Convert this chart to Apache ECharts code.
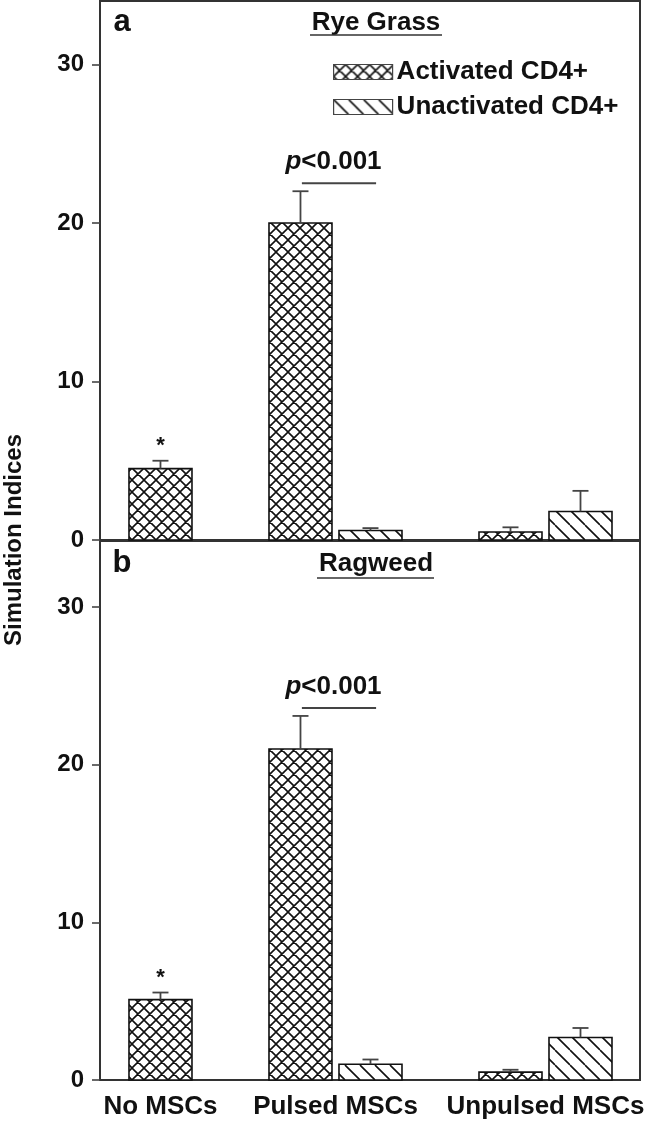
<!DOCTYPE html>
<html><head><meta charset="utf-8">
<script src="https://cdn.jsdelivr.net/npm/echarts@6/dist/echarts.min.js"></script>
<style>html,body{margin:0;padding:0;background:#fff}#chart{width:648px;height:1124px}</style>
</head><body><div id="chart"></div>
<script>
// ---------------- data ----------------
const categories = ['No MSCs', 'Pulsed MSCs', 'Unpulsed MSCs'];
const seriesNames = ['Activated CD4+', 'Unactivated CD4+'];
const panelTitles = ['Rye Grass', 'Ragweed'];
const panelLetters = ['a', 'b'];
const yAxisTitle = 'Simulation Indices';
const yTicks = [0, 10, 20, 30];

const ryeActivated = [4.5, 20.0, 0.5];
const ryeActivatedErr = [0.5, 2.0, 0.3];
const ryeUnactivated = [null, 0.6, 1.8];
const ryeUnactivatedErr = [null, 0.15, 1.3];

const ragActivated = [5.1, 21.0, 0.5];
const ragActivatedErr = [0.45, 2.1, 0.15];
const ragUnactivated = [null, 1.0, 2.7];
const ragUnactivatedErr = [null, 0.3, 0.6];

const starMarks = ['*', '', ''];
const pLabels = ['', 'p<0.001', ''];

// ---------------- layout ----------------
const FONT = '"Liberation Sans", Arial, sans-serif';
const groupStart = [0, 2, 5];
const slotOf = (cat, kind) => groupStart[cat] + kind;
const panels = [
  { vals: [ryeActivated, ryeUnactivated], errs: [ryeActivatedErr, ryeUnactivatedErr], max: 34 },
  { vals: [ragActivated, ragUnactivated], errs: [ragActivatedErr, ragUnactivatedErr], max: 34.2 }
];
const labelPos = categories.map((c, i) => {
  const s = [];
  [0, 1].forEach(k => { if (panels.some(p => p.vals[k][i] != null)) s.push(slotOf(i, k)); });
  return s.reduce((a, b) => a + b, 0) / s.length;
});

function makePattern(size, cross) {
  const cv = document.createElement('canvas');
  cv.width = size; cv.height = size;
  const ctx = cv.getContext('2d');
  ctx.fillStyle = '#fff'; ctx.fillRect(0, 0, size, size);
  ctx.strokeStyle = '#111'; ctx.lineWidth = 1.6;
  ctx.beginPath();
  for (let k = -1; k <= 1; k++) {
    ctx.moveTo(k * size, 0); ctx.lineTo(k * size + size, size);
    if (cross) { ctx.moveTo(k * size + size, 0); ctx.lineTo(k * size, size); }
  }
  ctx.stroke();
  return { image: cv, repeat: 'repeat' };
}
const patterns = [makePattern(12, true), makePattern(15, false)];

function makeRenderer(kind) {
  return function (params, api) {
    const slot = api.value(0), val = api.value(1), err = api.value(2), cat = api.value(3);
    const base = api.coord([slot, 0]);
    const top = api.coord([slot, val]);
    const errTop = api.coord([slot, val + err]);
    const w = api.size([0.9, 0])[0];
    const kids = [
      { type: 'rect', shape: { x: base[0] - w / 2, y: top[1], width: w, height: base[1] - top[1] },
        style: { fill: patterns[kind], stroke: '#111', lineWidth: 1.6 } },
      { type: 'line', shape: { x1: top[0], y1: top[1], x2: errTop[0], y2: errTop[1] },
        style: { stroke: '#444', lineWidth: 1.8 } },
      { type: 'line', shape: { x1: errTop[0] - 8, y1: errTop[1], x2: errTop[0] + 8, y2: errTop[1] },
        style: { stroke: '#444', lineWidth: 1.8 } }
    ];
    if (kind === 0 && starMarks[cat]) {
      kids.push({ type: 'text', style: { text: starMarks[cat], x: errTop[0], y: errTop[1] - 4,
        align: 'center', verticalAlign: 'bottom', fontSize: 22, fontWeight: 'bold', fontFamily: FONT, fill: '#111' } });
    }
    if (kind === 0 && pLabels[cat]) {
      const a = api.coord([slot + 0.02, val + err]);
      const b = api.coord([slot + 1.08, val + err]);
      const mid = api.coord([slot + 0.5, val + err]);
      const ly = errTop[1] - 8;
      kids.push({ type: 'line', shape: { x1: a[0], y1: ly, x2: b[0], y2: ly }, style: { stroke: '#444', lineWidth: 2 } });
      kids.push({ type: 'text', style: {
        text: '{i|p}{n|' + pLabels[cat].slice(1) + '}', x: mid[0] - 2, y: ly - 8, align: 'center', verticalAlign: 'bottom',
        rich: { i: { fontStyle: 'italic', fontWeight: 'bold', fontSize: 26, fontFamily: FONT, fill: '#111' },
                n: { fontWeight: 'bold', fontSize: 26, fontFamily: FONT, fill: '#111' } } } });
    }
    return { type: 'group', children: kids };
  };
}

const grids = [
  { left: 100, width: 540, top: 1, height: 539 },
  { left: 100, width: 540, top: 541, height: 539 }
].map(g => Object.assign(g, { show: true, borderColor: '#333', borderWidth: 2, backgroundColor: 'transparent' }));

const xAxes = panels.map((p, pi) => ({
  type: 'value', gridIndex: pi, min: -0.864, max: 6.85,
  axisLine: { show: false, onZero: false }, axisTick: { show: false }, splitLine: { show: false },
  axisLabel: pi === 1 ? {
    customValues: labelPos, margin: 14, fontSize: 26, fontWeight: 'bold', color: '#111', fontFamily: FONT,
    formatter: v => { const i = labelPos.findIndex(x => Math.abs(x - v) < 1e-6); return i >= 0 ? categories[i] : ''; }
  } : { show: false }
}));

const yAxes = panels.map((p, pi) => ({
  type: 'value', gridIndex: pi, min: 0, max: p.max, interval: 10,
  axisLine: { show: false, onZero: false }, splitLine: { show: false },
  axisTick: { show: true, length: 8, customValues: yTicks, lineStyle: { color: '#444', width: 1.6 } },
  axisLabel: { customValues: yTicks, margin: 16, fontSize: 24, fontWeight: 'bold', color: '#111', fontFamily: FONT,
    formatter: v => (yTicks.indexOf(v) >= 0 ? String(v) : '') }
}));

const series = [];
panels.forEach((p, pi) => {
  [0, 1].forEach(k => {
    const data = [];
    categories.forEach((c, i) => {
      if (p.vals[k][i] != null) data.push([slotOf(i, k), p.vals[k][i], p.errs[k][i], i]);
    });
    series.push({ type: 'custom', name: seriesNames[k], xAxisIndex: pi, yAxisIndex: pi,
      renderItem: makeRenderer(k), data: data, clip: false, silent: true,
      itemStyle: { color: '#888' } });
  });
});

const titleY = [23, 564];
const underline = [[310, 442, 35], [317, 434, 578]];
const graphic = [];
panels.forEach((p, pi) => {
  graphic.push({ type: 'text', x: 122, y: titleY[pi] - 1, style: { text: panelLetters[pi], align: 'center', verticalAlign: 'middle',
    fontSize: 31, fontWeight: 'bold', fontFamily: FONT, fill: '#111' } });
  graphic.push({ type: 'text', x: 376, y: titleY[pi], style: { text: panelTitles[pi], align: 'center', verticalAlign: 'middle',
    fontSize: 26, fontWeight: 'bold', fontFamily: FONT, fill: '#111' } });
  graphic.push({ type: 'line', shape: { x1: underline[pi][0], y1: underline[pi][2], x2: underline[pi][1], y2: underline[pi][2] },
    style: { stroke: '#333', lineWidth: 1.6 } });
});
graphic.push({ type: 'text', x: 14, y: 540, rotation: Math.PI / 2, style: { text: yAxisTitle, align: 'center', verticalAlign: 'middle',
  fontSize: 24, fontWeight: 'bold', fontFamily: FONT, fill: '#111' } });

const chart = echarts.init(document.getElementById('chart'), null, { renderer: 'canvas' });
chart.setOption({
  animation: false,
  backgroundColor: '#fff',
  grid: grids,
  xAxis: xAxes,
  yAxis: yAxes,
  legend: {
    left: 328, top: 54, orient: 'vertical', itemWidth: 59, itemHeight: 15, itemGap: 9, selectedMode: false,
    data: seriesNames.map((n, k) => ({ name: n, icon: 'rect', itemStyle: { color: patterns[k], borderColor: '#444', borderWidth: 1.2 } })),
    textStyle: { fontSize: 26, fontWeight: 'bold', color: '#111', fontFamily: FONT, padding: [0, 0, 0, -1] }
  },
  graphic: graphic,
  series: series
});
</script></body></html>
